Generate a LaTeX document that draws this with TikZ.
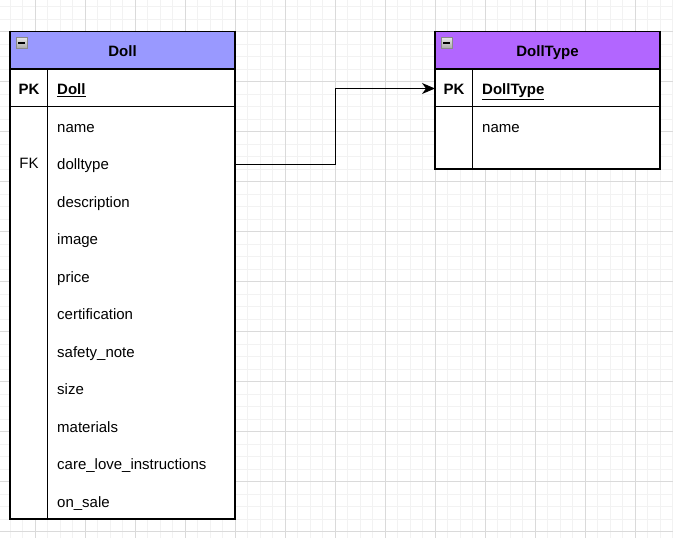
\documentclass[tikz,border=0pt]{standalone}
\usepackage{fontspec}
\setmainfont{Liberation Sans}
\usetikzlibrary{arrows.meta}
\definecolor{gridminor}{HTML}{F2F2F2}
\definecolor{gridmajor}{HTML}{DADADA}
\definecolor{dollhead}{HTML}{9999FF}
\definecolor{typehead}{HTML}{B266FF}
\definecolor{icontop}{HTML}{E6E6E6}
\definecolor{iconbot}{HTML}{A8A8A8}
\definecolor{iconedge}{HTML}{8A8A8A}
\tikzset{
  minorline/.style={draw=gridminor, line width=1pt},
  majorline/.style={draw=gridmajor, line width=1pt},
  frame/.style={draw=black, line width=1.15pt},
  headtext/.style={font=\fontsize{15}{18}\selectfont\bfseries, inner sep=0pt, text height=11pt, text depth=3.5pt},
  keytext/.style={font=\fontsize{15}{18}\selectfont\bfseries, inner sep=0pt, text height=11pt, text depth=3.5pt},
  fktext/.style={font=\fontsize{15}{18}\selectfont, inner sep=0pt, text height=11pt, text depth=3.5pt},
  field/.style={font=\fontsize{15}{18}\selectfont, minimum height=37.5pt, inner ysep=0pt,
    inner xsep=9.5pt, text width=168.5pt, align=left, anchor=north west,
    text height=12.5pt, text depth=2pt},
  iconbox/.style={draw=iconedge, line width=0.8pt, top color=icontop, bottom color=iconbot},
  link/.style={draw=black, line width=1pt, -{Stealth[length=13pt,width=11pt,inset=4pt]}}
}
\begin{document}
\begin{tikzpicture}[x=1pt,y=-1pt]
\useasboundingbox (0,0) rectangle (673,538);
\fill[white] (0,0) rectangle (673,538);
% grid
\foreach \k in {0,...,54} {\pgfmathsetmacro\gx{-2.5+12.5*\k}\draw[minorline] (\gx,0) -- (\gx,538);}
\foreach \k in {0,...,42} {\pgfmathsetmacro\gy{6.5+12.5*\k}\draw[minorline] (0,\gy) -- (673,\gy);}
\foreach \k in {0,...,13} {\pgfmathsetmacro\gx{-15+50*\k}\draw[majorline] (\gx,0) -- (\gx,538);}
\foreach \k in {0,...,10} {\pgfmathsetmacro\gy{31.5+50*\k}\draw[majorline] (0,\gy) -- (673,\gy);}

% ---------- Doll table ----------
\fill[white] (10,69) rectangle (235,519);
\fill[dollhead] (10,31.5) rectangle (235,69);
\draw[frame] (10,31.5) rectangle (235,519);
\draw[frame] (10,69) -- (235,69);
\draw[frame] (10,106.5) -- (235,106.5);
\draw[frame] (47.5,69) -- (47.5,519);
\draw[iconbox] (16,37.5) rectangle (27,48.5);
\draw[black, line width=1.2pt] (18,43) -- (25,43);
\node[headtext] (dollh) at (122.5,53) {Doll};
\node[keytext] (dollpk) at (29,90.3) {PK};
\node[field] (dollid) at (47.5,70.25) {\textbf{\underline{Doll}}};
\node[field] (fname) at (47.5,108) {name};
\node[fktext] (dollfk) at (29,165) {FK};
\node[field] (fdolltype) at (47.5,145.5) {dolltype};
\node[field] (fdesc) at (47.5,183) {description};
\node[field] (fimage) at (47.5,220.5) {image};
\node[field] (fprice) at (47.5,258) {price};
\node[field] (fcert) at (47.5,295.5) {certification};
\node[field] (fsafety) at (47.5,333) {safety\_note};
\node[field] (fsize) at (47.5,370.5) {size};
\node[field] (fmat) at (47.5,408) {materials};
\node[field] (fcare) at (47.5,445.5) {care\_love\_instructions};
\node[field] (fsale) at (47.5,483) {on\_sale};

% ---------- DollType table ----------
\fill[white] (435,69) rectangle (660,169);
\fill[typehead] (435,31.5) rectangle (660,69);
\draw[frame] (435,31.5) rectangle (660,169);
\draw[frame] (435,69) -- (660,69);
\draw[frame] (435,106.5) -- (660,106.5);
\draw[frame] (472.5,69) -- (472.5,169);
\draw[iconbox] (441,37.5) rectangle (452,48.5);
\draw[black, line width=1.2pt] (443,43) -- (450,43);
\node[headtext] (typeh) at (547.5,53) {DollType};
\node[keytext] (typepk) at (454,90.3) {PK};
\node[field] (typeid) at (472.5,70.25) {\textbf{\underline{DollType}}};
\node[field] (tname) at (472.5,108) {name};
\coordinate (typein) at (435,88.5);

% ---------- connector ----------
\draw[link] (fdolltype.east) -- ++(100,0) |- (typein);
\end{tikzpicture}
\end{document}
